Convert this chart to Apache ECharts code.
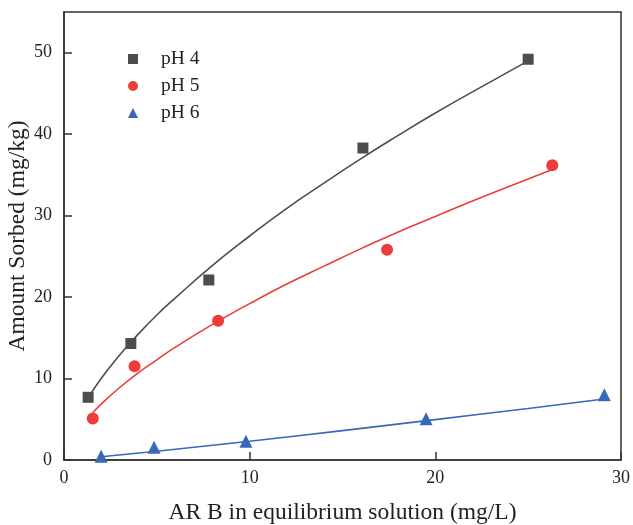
<!DOCTYPE html>
<html>
<head>
<meta charset="utf-8">
<script src="https://cdn.jsdelivr.net/npm/echarts@6/dist/echarts.min.js"></script>
<style>html,body{margin:0;padding:0;background:#fff}#c{width:633px;height:525px}</style>
</head>
<body>
<div id="c"></div>
<script>
// Measured data (x: AR B in equilibrium solution mg/L, y: amount sorbed mg/kg)
var ph4Data = [[1.3, 7.7], [3.6, 14.3], [7.8, 22.1], [16.1, 38.3], [25.0, 49.2]];
var ph5Data = [[1.55, 5.1], [3.8, 11.5], [8.3, 17.1], [17.4, 25.8], [26.3, 36.2]];
var ph6Data = [[2.0, 0.45], [4.85, 1.55], [9.8, 2.3], [19.5, 5.05], [29.1, 8.0]];
// Fitted curves
var ph4Fit = [[1.3, 7.6], [2, 10.0], [3, 12.9], [4, 15.45], [5, 17.8], [6, 19.9], [8, 23.9], [10, 27.5], [12, 30.9], [14, 34.0], [16, 37.0], [18, 39.85], [20, 42.6], [22, 45.2], [25, 49.0]];
var ph5Fit = [[1.55, 5.8], [2, 6.86], [3, 8.9], [4, 10.7], [5, 12.3], [6, 13.85], [8, 16.65], [10, 19.2], [12, 21.6], [14, 23.8], [16, 25.95], [18, 28.0], [20, 29.9], [22, 31.8], [24, 33.6], [26.3, 35.65]];
var ph6Fit = [[2.0, 0.39], [5, 1.08], [10, 2.31], [15, 3.61], [20, 4.96], [25, 6.33], [29.2, 7.51]];
var seriesNames = ['pH 4', 'pH 5', 'pH 6'];
var xTicks = [0, 10, 20, 30];
var yTicks = [0, 10, 20, 30, 40, 50];

var colors = ['#4d4d4d', '#ee3b3b', '#3868b8'];
var symbols = ['rect', 'circle', 'triangle'];
var symSizes = [11, 12, 13];
var dataSets = [ph4Data, ph5Data, ph6Data];
var fitSets = [ph4Fit, ph5Fit, ph6Fit];
var serif = '"Liberation Serif", "DejaVu Serif", serif';

var series = [];
for (var i = 0; i < 3; i++) {
  series.push({
    type: 'line', data: fitSets[i], showSymbol: false, smooth: true, silent: true,
    lineStyle: {color: colors[i], width: 1.6}, itemStyle: {color: colors[i]}, z: 2
  });
}
for (var j = 0; j < 3; j++) {
  series.push({
    name: seriesNames[j], type: 'scatter', data: dataSets[j],
    symbol: symbols[j], symbolSize: symSizes[j],
    itemStyle: {color: colors[j], opacity: 1}, z: 3
  });
}

var chart = echarts.init(document.getElementById('c'), null, {renderer: 'canvas'});
chart.setOption({
  animation: false,
  backgroundColor: '#fff',
  grid: {left: 64, top: 12, right: 12, bottom: 65, show: true, borderColor: '#333', borderWidth: 1.5,
    backgroundColor: 'transparent', containLabel: false, outerBoundsMode: 'none'},
  legend: {
    data: seriesNames, orient: 'vertical', left: 123, top: 44,
    itemWidth: 10, itemHeight: 10, itemGap: 7,
    textStyle: {fontFamily: serif, fontSize: 19.5, color: '#222', padding: [0, 0, 0, 18], lineHeight: 19}
  },
  xAxis: {
    type: 'value', min: 0, max: 30, interval: 10,
    name: 'AR B in equilibrium solution (mg/L)', nameLocation: 'middle', nameGap: 41, nameMoveOverlap: false,
    nameTextStyle: {fontFamily: serif, fontSize: 23.5, color: '#222'},
    axisLine: {show: true, lineStyle: {color: '#333', width: 1.5}},
    axisTick: {show: true, inside: true, length: 8, lineStyle: {color: '#333', width: 1.5}},
    axisLabel: {fontFamily: serif, fontSize: 18, color: '#222', margin: 9,
      formatter: function (v) { return xTicks.indexOf(v) >= 0 ? String(v) : ''; }},
    splitLine: {show: false}
  },
  yAxis: {
    type: 'value', min: 0, max: 55, interval: 10,
    name: 'Amount Sorbed (mg/kg)', nameLocation: 'middle', nameGap: 34, nameMoveOverlap: false,
    nameTextStyle: {fontFamily: serif, fontSize: 23.5, color: '#222'},
    axisLine: {show: true, lineStyle: {color: '#333', width: 1.5}},
    axisTick: {show: true, inside: true, length: 8, lineStyle: {color: '#333', width: 1.5}},
    axisLabel: {fontFamily: serif, fontSize: 18, color: '#222', margin: 12, showMaxLabel: false,
      formatter: function (v) { return yTicks.indexOf(v) >= 0 ? String(v) : ''; }},
    splitLine: {show: false}
  },
  series: series
});
</script>
</body>
</html>
